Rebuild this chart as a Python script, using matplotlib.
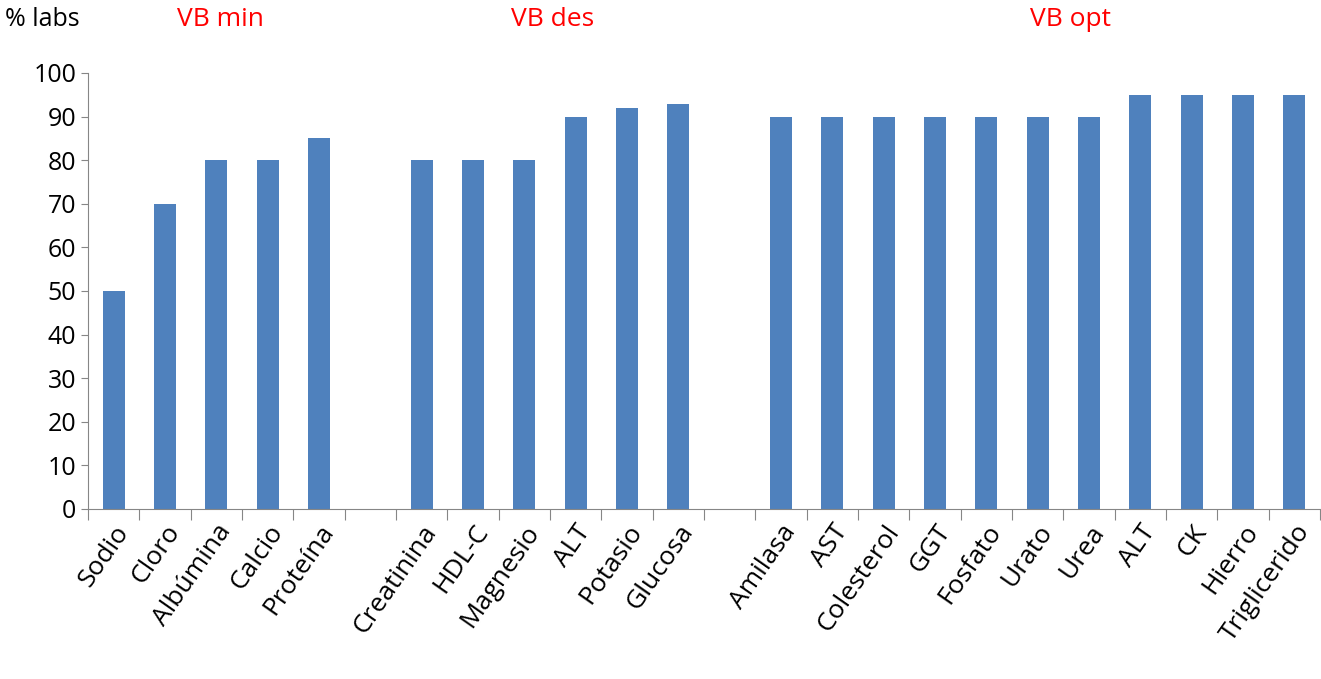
import matplotlib
matplotlib.use("Agg")
import matplotlib.pyplot as plt

plt.rcParams['font.family'] = ['Open Sans', 'DejaVu Sans']

categories = ["Sodio", "Cloro", "Albúmina", "Calcio", "Proteína", "",
              "Creatinina", "HDL-C", "Magnesio", "ALT", "Potasio", "Glucosa", "",
              "Amilasa", "AST", "Colesterol", "GGT", "Fosfato", "Urato", "Urea",
              "ALT", "CK", "Hierro", "Triglicerido"]
values = [50, 70, 80, 80, 85, None,
          80, 80, 80, 90, 92, 93, None,
          90, 90, 90, 90, 90, 90, 90, 95, 95, 95, 95]
groups = ["VB min", "VB des", "VB opt"]
group_x = [220, 553, 1070]

fig = plt.figure(figsize=(13.21, 6.79), dpi=100)
ax = fig.add_axes([88/1321, 170/679, 1232/1321, 436/679])
xs = [i for i, v in enumerate(values) if v is not None]
vs = [v for v in values if v is not None]
ax.bar(xs, vs, width=0.43, color='#4F81BD')
ax.set_xlim(-0.5, len(categories) - 0.5)
ax.set_ylim(0, 100)
ax.set_yticks(range(0, 101, 10))
ax.tick_params(axis='y', labelsize=18, length=5, color='#868686')
ax.set_xticks([i - 0.5 for i in range(len(categories) + 1)], minor=False)
ax.set_xticklabels([])
ax.tick_params(axis='x', length=8, color='#868686')
ax.set_xticks(range(len(categories)), minor=True)
ax.set_xticklabels(categories, minor=True, rotation=55, ha='right', rotation_mode='anchor', fontsize=19)
ax.tick_params(axis='x', which='minor', length=0, pad=8)
for s in ['top', 'right']:
    ax.spines[s].set_visible(False)
ax.spines['left'].set_color('#868686')
ax.spines['bottom'].set_color('#868686')

fig.text(5/1321, 1 - 20/679, "% labs", fontsize=18, va='center', ha='left')
for g, x in zip(groups, group_x):
    fig.text(x/1321, 1 - 20/679, g, fontsize=19, color='red', va='center', ha='center')

fig.savefig("out.png", dpi=100)
